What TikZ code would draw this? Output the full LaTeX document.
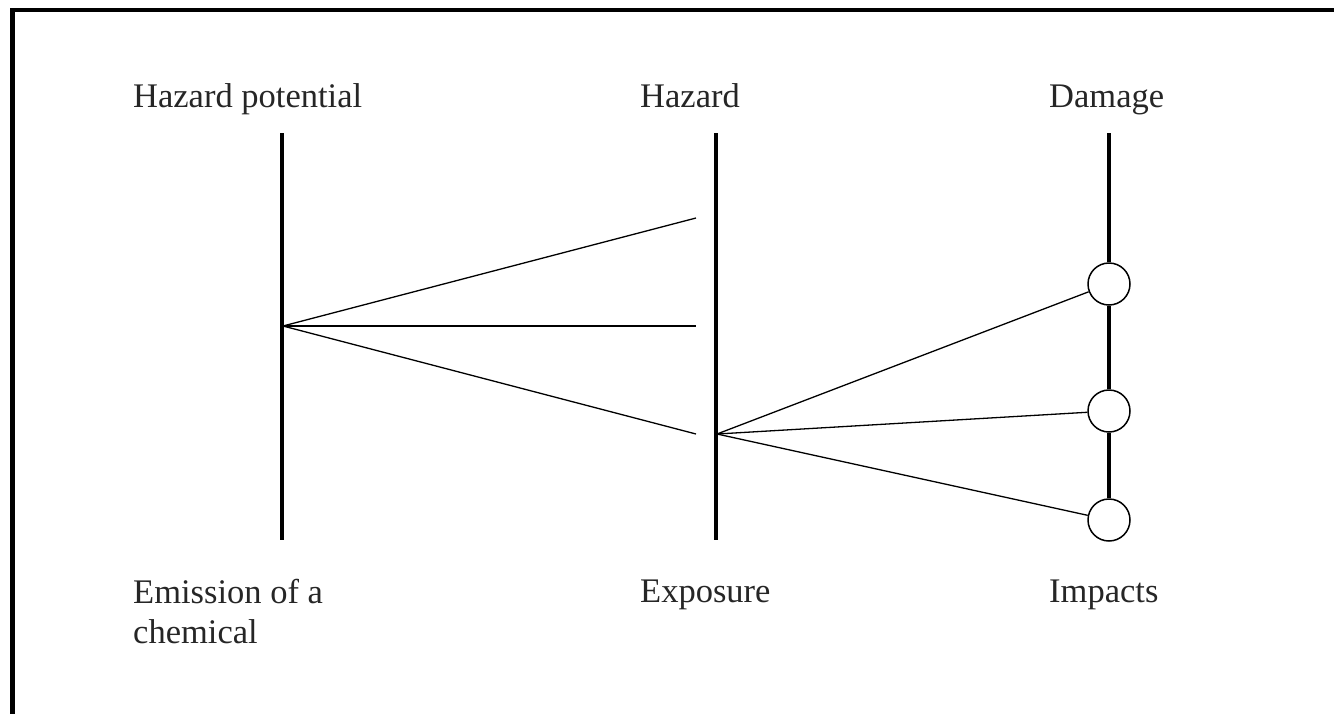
\documentclass[tikz,border=0pt]{standalone}
\usepackage{fontspec}
\setmainfont{Liberation Serif}
\begin{document}
\begin{tikzpicture}[x=1pt,y=-1pt,
  lbl/.style={anchor=base west,inner sep=0pt,align=left,
    font=\fontsize{34.5}{40}\selectfont,text=black!85},
  axisline/.style={line width=3.2pt},
  fanline/.style={line width=1.3pt},
  impact/.style={circle,draw,line width=1.5pt,minimum size=42pt,inner sep=0pt,fill=white}]
\useasboundingbox (0,0) rectangle (1334,713);
% outer frame, running past the right and bottom edges
\draw[line width=4.5pt] (12.5,10) rectangle (1420,800);

% column labels
\node[lbl] (hp)  at (133,107) {Hazard potential};
\node[lbl] (hz)  at (640,107) {Hazard};
\node[lbl] (dm)  at (1049,107) {Damage};
\node[lbl] (em)  at (133,643) {Emission of a\\chemical};
\node[lbl] (ex)  at (640,602) {Exposure};
\node[lbl] (im)  at (1049,602) {Impacts};

% vertical axes
\coordinate (at) at (282,133);
\coordinate (ab) at (282,540);
\coordinate (bt) at (716,133);
\coordinate (bb) at (716,540);
\coordinate (ct) at (1109,133);
\draw[axisline] (at) -- (ab);
\draw[axisline] (bt) -- (bb);

% impact nodes on the right axis
\node[impact] (c1) at (1109,284) {};
\node[impact] (c2) at (1109,411) {};
\node[impact] (c3) at (1109,520) {};
\draw[axisline] (ct) -- (c1.north);
\draw[axisline] (c1.south) -- (c2.north);
\draw[axisline] (c2.south) -- (c3.north);

% fan from the emission point
\coordinate (src) at (283,326);
\coordinate (e1) at (696,218);
\coordinate (e2) at (696,326);
\coordinate (e3) at (696,434);
\draw[fanline] (src) -- (e1);
\draw[fanline] (src) -- (e2);
\draw[fanline] (src) -- (e3);

% fan from the exposure point
\coordinate (exp) at (717,434);
\draw[fanline] (exp) -- (c1);
\draw[fanline] (exp) -- (c2);
\draw[fanline] (exp) -- (c3);
\end{tikzpicture}
\end{document}
